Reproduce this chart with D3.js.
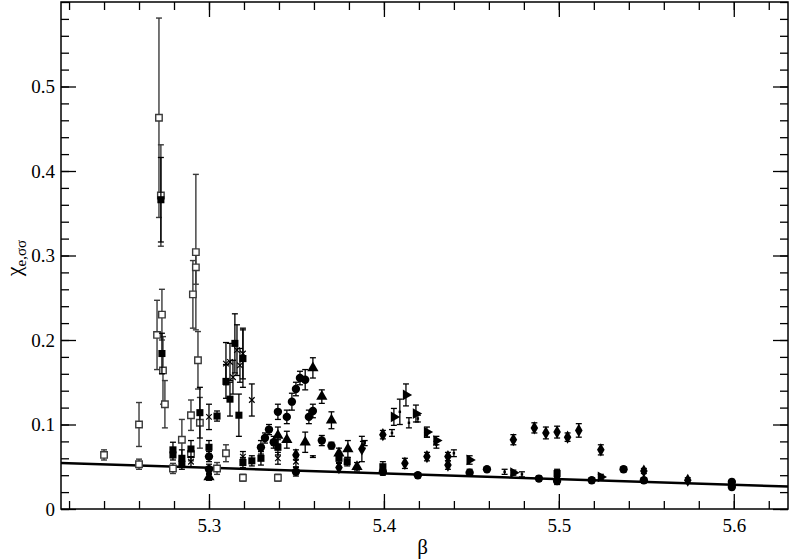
<!DOCTYPE html>
<html><head><meta charset="utf-8">
<script src="https://cdn.jsdelivr.net/npm/d3@7"></script>
<style>body{margin:0;background:#fff} svg{display:block}</style>
</head><body><svg id="c" width="789" height="560"></svg>
<script>
// [beta, chi, error]
const openSquares = [
  [5.240,0.064,0.006],[5.260,0.100,0.026],[5.260,0.053,0.006],
  [5.2714,0.463,0.118],[5.2725,0.371,0.060],[5.2703,0.206,0.041],
  [5.2731,0.230,0.030],[5.2737,0.164,0.040],[5.2748,0.124,0.028],
  [5.2908,0.254,0.040],[5.2925,0.304,0.092],[5.2925,0.286,0.020],
  [5.2794,0.048,0.006],[5.2845,0.082,0.024],[5.2897,0.111,0.018],
  [5.2897,0.065,0.008],[5.2937,0.176,0.034],[5.2948,0.102,0.030],
  [5.3046,0.048,0.007],[5.3097,0.066,0.010],[5.3194,0.037,0.004],[5.3394,0.037,0.004]
];
const filledSquares = [
  [5.2725,0.366,0.050],[5.2731,0.184,0.024],[5.2794,0.070,0.009],[5.2794,0.064,0.006],
  [5.2845,0.060,0.010],[5.2845,0.053,0.006],[5.2897,0.071,0.010],[5.2948,0.114,0.030],
  [5.300,0.073,0.008],[5.3046,0.110,0.006],[5.3097,0.151,0.020],[5.312,0.130,0.020],
  [5.3148,0.196,0.035],[5.3171,0.111,0.025],[5.3194,0.178,0.034],[5.3194,0.055,0.006],
  [5.3245,0.057,0.006],[5.3297,0.060,0.008],[5.3394,0.073,0.009],[5.379,0.056,0.005],
  [5.3743,0.060,0.005],[5.3994,0.050,0.006],[5.499,0.042,0.005]
];
const crosses = [
  [5.2897,0.056,0.006],[5.300,0.109,0.015],[5.3097,0.172,0.025],[5.312,0.174,0.022],
  [5.3137,0.156,0.020],[5.316,0.188,0.030],[5.3177,0.170,0.020],[5.3194,0.184,0.030],
  [5.3194,0.062,0.006],[5.3245,0.129,0.019],[5.3394,0.060,0.007],[5.3497,0.056,0.006]
];
const filledCircles = [
  [5.300,0.062,0.006],[5.300,0.047,0.006],[5.3297,0.073,0.008],[5.332,0.084,0.006],
  [5.3343,0.094,0.006],[5.337,0.079,0.007],[5.3394,0.115,0.009],[5.3445,0.109,0.008],
  [5.3474,0.127,0.010],[5.3497,0.142,0.008],[5.352,0.155,0.008],[5.355,0.153,0.012],
  [5.3497,0.044,0.005],[5.3571,0.109,0.008],[5.3594,0.116,0.008],[5.3645,0.081,0.006],
  [5.370,0.075,0.004],[5.3994,0.044,0.004],[5.4194,0.040,0.003],[5.449,0.043,0.004],
  [5.4589,0.047,0.002],[5.4886,0.036,0.003],[5.499,0.033,0.004],[5.5188,0.034,0.003],
  [5.537,0.047,0.003],[5.5486,0.034,0.003],[5.5989,0.032,0.003],[5.5989,0.026,0.003]
];
const filledTriangles = [
  [5.300,0.038,0.004],[5.3394,0.087,0.010],[5.3445,0.082,0.010],[5.355,0.079,0.012],
  [5.3594,0.167,0.012],[5.3645,0.133,0.008],[5.370,0.105,0.010],[5.3743,0.066,0.006],
  [5.3794,0.071,0.010],[5.3846,0.050,0.005]
];
const filledDiamonds = [
  [5.3497,0.064,0.006],[5.3743,0.049,0.005],[5.3874,0.071,0.015],[5.3994,0.088,0.005],
  [5.412,0.054,0.006],[5.4246,0.062,0.005],[5.4366,0.062,0.005],[5.4366,0.052,0.005],
  [5.474,0.082,0.006],[5.486,0.096,0.006],[5.4926,0.090,0.007],[5.499,0.091,0.007],
  [5.505,0.085,0.005],[5.5114,0.093,0.008],[5.524,0.070,0.006],[5.5486,0.045,0.003],
  [5.5737,0.034,0.003]
];
const rightTriangles = [
  [5.4057,0.109,0.010],[5.4126,0.135,0.013],[5.4183,0.113,0.010],[5.4246,0.091,0.006],
  [5.430,0.081,0.005],[5.449,0.058,0.005],[5.474,0.043,0.003],[5.524,0.038,0.003]
];
const dashes = [
  [5.3594,0.062,0.001],[5.388,0.076,0.004],[5.389,0.078,0.003],[5.4046,0.090,0.004],
  [5.4091,0.115,0.015],[5.4143,0.102,0.006],[5.4194,0.107,0.004],[5.4246,0.088,0.003],
  [5.430,0.076,0.004],[5.440,0.066,0.004],[5.469,0.044,0.003],[5.4789,0.041,0.003]
];
const fitBeta = [5.2154, 5.631];
const fitChi = [0.0545, 0.0265];
const xMajor = [5.3, 5.4, 5.5, 5.6];
const yMajor = [0, 0.1, 0.2, 0.3, 0.4, 0.5];

const svg = d3.select("#c");
const L=61, R=788, T=2, B=509;
const x = d3.scaleLinear().domain([5.2154, 5.631]).range([L, R]);
const y = d3.scaleLinear().domain([0, 0.6]).range([B, T]);
const FONT = "'Liberation Serif','Times New Roman',serif";

const xMinor = d3.range(5.22, 5.631, 0.02).map(v=>+v.toFixed(2));
const yMinor = d3.range(0, 0.601, 0.02).map(v=>+v.toFixed(2));

function styleAxis(g){
  g.attr("font-family",FONT);
  g.select(".domain").remove();
  g.selectAll("line").attr("stroke","#000").attr("stroke-width",1.3);
  g.selectAll("text").attr("font-family",FONT).attr("font-size",19).attr("fill","#000");
}
// minor ticks
svg.append("g").attr("transform",`translate(0,${B})`).call(d3.axisBottom(x).tickValues(xMinor).tickSize(-8).tickFormat("")).call(styleAxis);
svg.append("g").attr("transform",`translate(0,${T})`).call(d3.axisTop(x).tickValues(xMinor).tickSize(-8).tickFormat("")).call(styleAxis);
svg.append("g").attr("transform",`translate(${L},0)`).call(d3.axisLeft(y).tickValues(yMinor).tickSize(-8).tickFormat("")).call(styleAxis);
svg.append("g").attr("transform",`translate(${R},0)`).call(d3.axisRight(y).tickValues(yMinor).tickSize(-8).tickFormat("")).call(styleAxis);
// major ticks
svg.append("g").attr("transform",`translate(0,${B})`).call(d3.axisBottom(x).tickValues(xMajor).tickSize(-15).tickPadding(10).tickFormat(d3.format(".1f"))).call(styleAxis);
svg.append("g").attr("transform",`translate(0,${T})`).call(d3.axisTop(x).tickValues(xMajor).tickSize(-15).tickFormat("")).call(styleAxis);
svg.append("g").attr("transform",`translate(${L},0)`).call(d3.axisLeft(y).tickValues(yMajor).tickSize(-15).tickPadding(6).tickFormat(d=>d===0?"0":d3.format(".1f")(d))).call(styleAxis);
svg.append("g").attr("transform",`translate(${R},0)`).call(d3.axisRight(y).tickValues(yMajor).tickSize(-15).tickFormat("")).call(styleAxis);

// frame
svg.append("rect").attr("x",L).attr("y",T).attr("width",R-L).attr("height",B-T)
  .attr("fill","none").attr("stroke","#000").attr("stroke-width",1.5);

// fit line
svg.append("line").attr("x1",x(fitBeta[0])).attr("y1",y(fitChi[0]))
  .attr("x2",x(fitBeta[1])).attr("y2",y(fitChi[1]))
  .attr("stroke","#000").attr("stroke-width",2.5);

const plot = svg.append("g");
function errBars(data, color, w){
  const g = plot.append("g").attr("stroke",color).attr("stroke-width",w||1.3).attr("fill","none");
  data.forEach(d=>{
    const X=x(d[0]), y1=y(d[1]-d[2]), y2=y(d[1]+d[2]);
    g.append("line").attr("x1",X).attr("x2",X).attr("y1",y1).attr("y2",y2);
    g.append("line").attr("x1",X-3).attr("x2",X+3).attr("y1",y1).attr("y2",y1);
    g.append("line").attr("x1",X-3).attr("x2",X+3).attr("y1",y2).attr("y2",y2);
  });
}
function markers(data, type, size, opts){
  const sym = d3.symbol().type(type).size(size);
  plot.append("g").selectAll("path").data(data).join("path")
    .attr("d", sym)
    .attr("transform", d=>`translate(${x(d[0])},${y(d[1])}) rotate(${opts.rot||0})`)
    .attr("fill", opts.fill).attr("stroke", opts.stroke||"none").attr("stroke-width", opts.sw||1);
}

errBars(openSquares, "#3a3a3a", 1.4);
markers(openSquares, d3.symbolSquare, 42, {fill:"#fff", stroke:"#3a3a3a", sw:1.4});
errBars(filledSquares, "#000");
markers(filledSquares, d3.symbolSquare, 50, {fill:"#000"});
errBars(crosses, "#000");
markers(crosses, d3.symbolTimes, 22, {fill:"none", stroke:"#000", sw:1.2});
errBars(filledCircles, "#000");
markers(filledCircles, d3.symbolCircle, 55, {fill:"#000"});
errBars(filledTriangles, "#000");
markers(filledTriangles, d3.symbolTriangle, 55, {fill:"#000"});
errBars(filledDiamonds, "#000");
markers(filledDiamonds, d3.symbolDiamond, 50, {fill:"#000"});
errBars(rightTriangles, "#000");
markers(rightTriangles, d3.symbolTriangle, 50, {fill:"#000", rot:90});
errBars(dashes, "#000");
markers(dashes, d3.symbolSquare, 6, {fill:"#000"});

// axis labels
svg.append("text").attr("x",(L+R)/2 - 2).attr("y",554).attr("text-anchor","middle")
  .attr("font-family",FONT).attr("font-size",21).text("β");
const yl = svg.append("text").attr("transform","translate(21,258) rotate(-90)")
  .attr("text-anchor","middle").attr("font-family",FONT).attr("font-size",22);
yl.append("tspan").text("χ");
yl.append("tspan").attr("dy",5).attr("font-size",15).text("e,σσ");
</script></body></html>
